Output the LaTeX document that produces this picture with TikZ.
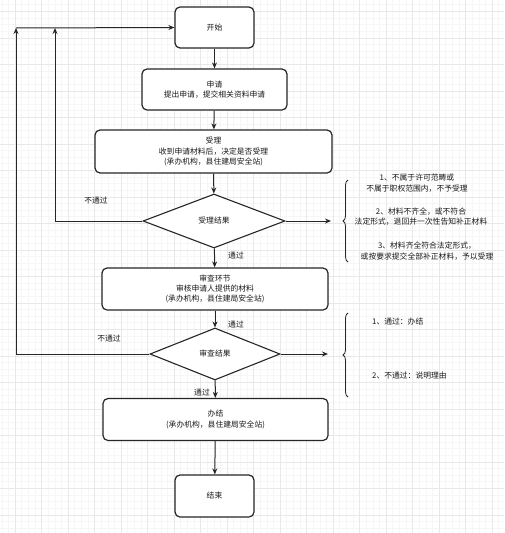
\documentclass[tikz,border=0pt]{standalone}
\usepackage{fontspec}
\newfontfamily\cjk{Noto Sans CJK SC}
\usetikzlibrary{shapes.geometric,arrows.meta,decorations.pathreplacing}
\begin{document}
\begin{tikzpicture}[x=1pt,y=-1pt,
  every node/.style={font=\cjk\fontsize{7.8}{10.3}\selectfont,text=black!90},
  box/.style={draw=black!85,line width=1.2pt,rounded corners=5pt,fill=white,align=center,inner sep=0pt},
  dia/.style={draw=black!85,line width=1.1pt,diamond,fill=white,inner sep=0pt,align=center},
  conn/.style={draw=black!85,line width=1pt,-{Stealth[length=6pt,width=5pt]}},
  lbl/.style={inner sep=1pt},
  brc/.style={draw=black!85,line width=0.8pt,decorate,decoration={brace,amplitude=5pt}}]
\useasboundingbox (0,0) rectangle (504,533);
\fill[white] (0,0) rectangle (504,533);
% grid
\foreach \i in {0,...,76} {
  \draw[gray!7,line width=0.4pt] ({1.75+\i*6.625},0) -- ({1.75+\i*6.625},533);
}
\foreach \i in {0,...,81} {
  \draw[gray!7,line width=0.4pt] (0,{-2+\i*6.625}) -- (504,{-2+\i*6.625});
}
\foreach \i in {0,...,19} {
  \draw[gray!18,line width=0.5pt] ({15+\i*26.5-26.5},0) -- ({15+\i*26.5-26.5},533);
}
\foreach \i in {0,...,20} {
  \draw[gray!18,line width=0.5pt] (0,{11.25+\i*26.5-26.5}) -- (504,{11.25+\i*26.5-26.5});
}
% nodes
\node[box,minimum width=79pt,minimum height=41pt] (start) at (214.5,27.5) {开始};
\node[box,minimum width=145pt,minimum height=41pt] (apply) at (214.5,89.5) {申请\\提出申请，提交相关资料申请};
\node[box,minimum width=237pt,minimum height=43pt] (accept) at (213.5,151.5) {受理\\收到申请材料后，决定是否受理\\(承办机构，县住建局安全站)};
\node[dia,minimum width=142pt,minimum height=54pt] (d1) at (214,221) {受理结果};
\node[box,minimum width=226pt,minimum height=42pt] (review) at (215,289) {审查环节\\审核申请人提供的材料\\(承办机构，县住建局安全站)};
\node[dia,minimum width=130pt,minimum height=52pt] (d2) at (215,354) {审查结果};
\node[box,minimum width=225pt,minimum height=42pt] (done) at (215.5,419.5) {办结\\(承办机构，县住建局安全站)};
\node[box,minimum width=79pt,minimum height=42pt] (end) at (214.5,496) {结束};
% coordinates
\coordinate (l1) at (55,221);
\coordinate (t1) at (55,28);
\coordinate (l2) at (16,354);
\coordinate (t2) at (16,28);
\coordinate (r1) at (331,221);
\coordinate (r2) at (328,354);
\coordinate (b1s) at (348,262);
\coordinate (b1e) at (348,180);
\coordinate (b2s) at (348,397);
\coordinate (b2e) at (348,313);
% connectors
\draw[conn] (start) -- (apply);
\draw[conn] (apply) -- (accept);
\draw[conn] (accept) -- (d1);
\draw[conn] (d1) -- (review);
\draw[conn] (review) -- (d2);
\draw[conn] (d2) -- (done);
\draw[conn] (done) -- (end);
\draw[conn] (d1.west) -- (l1) -- (t1);
\draw[conn] (d2.west) -- (l2) -- (t2);
\draw[conn] (t2) -- (start.west);
\draw[conn] (d1.east) -- (r1);
\draw[conn] (d2.east) -- (r2);
\draw[brc] (b1s) -- (b1e);
\draw[brc] (b2s) -- (b2e);
% labels
\node[lbl] (n1) at (96,201) {不通过};
\node[lbl] (n2) at (109,339) {不通过};
\node[lbl] (p1) at (236,256) {通过};
\node[lbl] (p2) at (236,325) {通过};
\node[lbl] (p3) at (202,393) {通过};
\node[lbl,align=center] (s1) at (417,183) {1、不属于许可范畴或\\不属于职权范围内，不予受理};
\node[lbl,align=center] (s2) at (421,216.5) {2、材料不齐全，或不符合\\法定形式，退回并一次性告知补正材料};
\node[lbl,align=center] (s3) at (427,251) {3、材料齐全符合法定形式，\\或按要求提交全部补正材料，予以受理};
\node[lbl,anchor=west] (s4) at (371,322) {1、通过：办结};
\node[lbl,anchor=west] (s5) at (371,376) {2、不通过：说明理由};
\end{tikzpicture}
\end{document}
